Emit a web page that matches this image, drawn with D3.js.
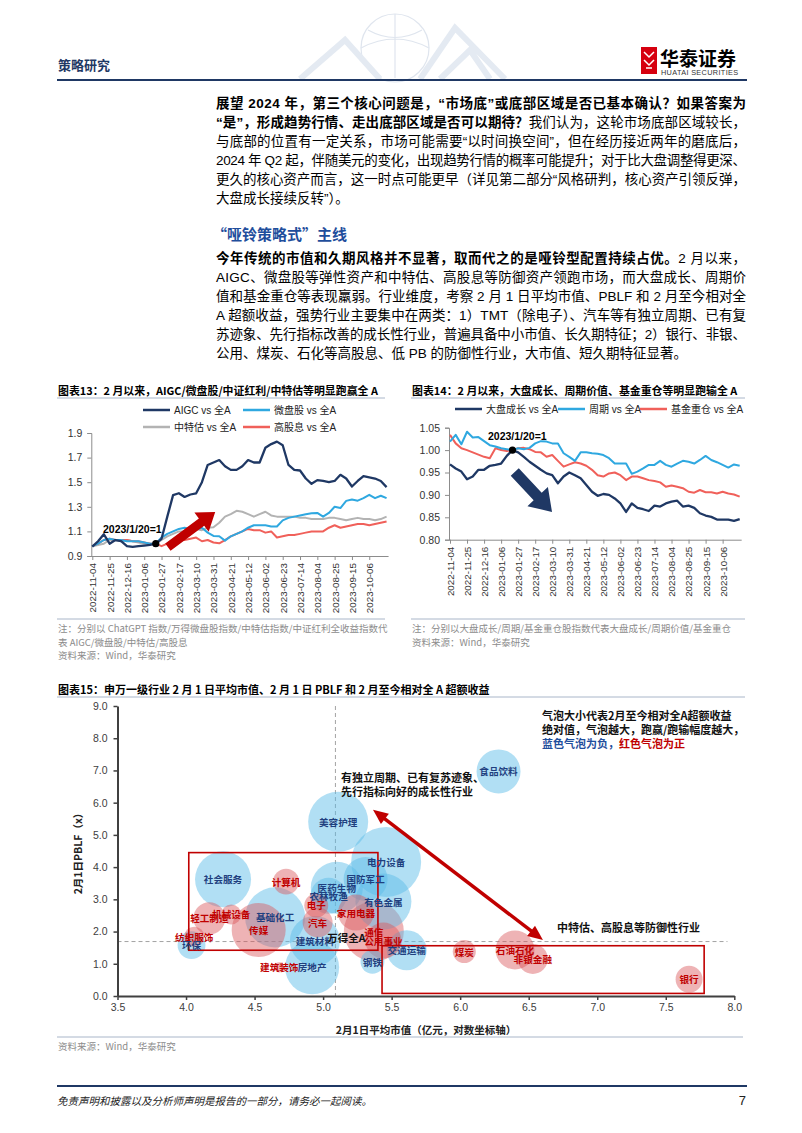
<!DOCTYPE html>
<html><head><meta charset="utf-8">
<script src="https://cdn.jsdelivr.net/npm/d3@7"></script>
<style>body{margin:0;background:#fff}svg{display:block}</style>
</head><body>
<svg id="page" width="802" height="1133"></svg>
<script>
// ---------------- DATA ----------------
const weekTickLabels = ["2022-11-04","2022-11-25","2022-12-16","2023-01-06","2023-01-27","2023-02-17","2023-03-10","2023-03-31","2023-04-21","2023-05-12","2023-06-02","2023-06-23","2023-07-14","2023-08-04","2023-08-25","2023-09-15","2023-10-06"];
const baseWeek = 11; // 2023/1/20 = 1

const aigc = [0.976,1.02,1.077,1.0,1.03,1.02,0.98,0.975,0.98,0.985,0.99,1.0,1.04,1.22,1.395,1.41,1.38,1.40,1.41,1.5,1.64,1.66,1.68,1.63,1.60,1.60,1.63,1.68,1.66,1.66,1.78,1.81,1.83,1.80,1.64,1.60,1.595,1.53,1.487,1.517,1.51,1.50,1.51,1.56,1.53,1.465,1.51,1.55,1.54,1.53,1.51,1.46];
const microCap = [0.98,1.0,1.03,1.04,1.03,1.03,1.02,1.02,1.02,1.01,1.0,1.0,1.05,1.08,1.1,1.12,1.13,1.12,1.117,1.13,1.09,1.063,1.06,1.025,1.06,1.08,1.1,1.13,1.15,1.15,1.15,1.14,1.14,1.19,1.21,1.22,1.23,1.24,1.248,1.25,1.22,1.25,1.30,1.29,1.348,1.36,1.35,1.37,1.397,1.37,1.39,1.37];
const cte = [0.98,0.99,1.0,1.03,1.03,1.02,1.03,1.02,1.01,1.0,1.0,1.0,1.03,1.06,1.08,1.1,1.1,1.1,1.12,1.11,1.13,1.134,1.17,1.22,1.24,1.267,1.26,1.24,1.22,1.24,1.26,1.23,1.22,1.22,1.22,1.22,1.21,1.21,1.2,1.2,1.2,1.21,1.21,1.2,1.19,1.2,1.21,1.2,1.2,1.19,1.2,1.22];
const highDiv = [0.98,1.0,1.03,1.04,1.03,1.03,1.03,1.02,1.02,1.01,1.0,1.0,0.98,1.0,1.025,1.03,1.03,1.04,1.05,1.02,1.03,1.01,1.003,1.03,1.06,1.08,1.1,1.12,1.11,1.11,1.09,1.1,1.05,1.06,1.07,1.07,1.08,1.09,1.1,1.1,1.1,1.13,1.15,1.13,1.14,1.15,1.16,1.16,1.15,1.16,1.17,1.18];

const largeGrowth = [0.968,0.959,0.952,0.935,0.941,0.956,0.956,0.965,0.967,0.970,0.987,1.0,0.995,0.985,0.974,0.965,0.956,0.948,0.944,0.926,0.941,0.950,0.944,0.937,0.922,0.907,0.898,0.902,0.900,0.892,0.881,0.862,0.881,0.871,0.868,0.864,0.876,0.874,0.881,0.885,0.887,0.874,0.876,0.871,0.859,0.854,0.851,0.845,0.845,0.845,0.842,0.846];
const cyclical = [1.019,1.034,1.013,1.041,1.028,1.029,1.020,1.011,1.008,1.004,1.002,1.0,1.004,1.002,1.005,1.015,1.020,1.019,1.015,1.015,0.993,0.985,0.976,0.995,0.995,0.993,0.992,0.989,0.982,0.970,0.970,0.970,0.947,0.952,0.959,0.967,0.967,0.976,0.967,0.963,0.970,0.976,0.974,0.970,0.978,0.987,0.978,0.973,0.967,0.961,0.968,0.965];
const fundHeavy = [1.034,1.015,1.004,1.0,0.995,0.990,0.985,0.982,1.004,1.0,0.998,1.0,1.004,1.005,1.002,0.996,0.995,0.985,0.989,0.976,0.963,0.968,0.973,0.970,0.965,0.956,0.944,0.941,0.948,0.950,0.944,0.933,0.941,0.941,0.937,0.933,0.931,0.928,0.918,0.921,0.918,0.915,0.907,0.905,0.911,0.906,0.906,0.903,0.907,0.903,0.901,0.896];

// bubble chart: Shenwan level-1 industries
const industries = ["食品饮料","美容护理","电力设备","社会服务","计算机","国防军工","医药生物","农林牧渔","有色金属","电子","家用电器","汽车","基础化工","传媒","机械设备","轻工制造","纺织服饰","环保","建筑材料","通信","公用事业","交通运输","钢铁","建筑装饰","房地产","煤炭","石油石化","非银金融","银行"];
const avgMktCap = [6.28,5.11,5.46,4.27,4.73,5.31,5.10,5.04,5.44,4.95,5.24,4.96,4.65,4.53,4.33,4.17,4.06,4.04,4.94,5.37,5.44,5.61,5.36,4.68,4.92,6.03,6.40,6.53,7.67];
const pblfVals = [6.97,5.41,4.16,3.62,3.55,3.63,3.36,3.11,2.93,2.81,2.59,2.28,2.44,2.05,2.53,2.41,1.84,1.58,1.71,2.00,1.72,1.42,1.06,0.89,0.89,1.38,1.43,1.15,0.52];
const excessRet = [-14.9,-27.8,-37.8,-24.2,5.2,-14.9,-20.9,-10.0,-24.2,4.4,10.0,6.9,-27.8,22.5,3.1,7.9,3.1,-6.0,-19.3,27.8,10.0,-12.3,-4.4,0.8,-22.5,4.1,11.7,6.9,5.6];
const allA = {name:"万得全A", cap:5.09, pblf:1.69};

const xTicks15 = [3.5,4.0,4.5,5.0,5.5,6.0,6.5,7.0,7.5,8.0];
const yTicks15 = [0,1,2,3,4,5,6,7,8,9];

// ---------------- HELPERS ----------------
const FONT = '"Liberation Sans", Arial, "Noto Sans CJK SC", sans-serif';
const CJK = '"Noto Sans CJK SC", "Liberation Sans", sans-serif';
const svg = d3.select("#page");
svg.append("rect").attr("width",802).attr("height",1133).attr("fill","#fff");

function txt(g, x, y, s, size, o={}) {
  return g.append("text").attr("x",x).attr("y",y).text(s)
    .attr("font-size",size).attr("font-family",o.family||FONT)
    .attr("font-weight",o.weight||"normal").attr("fill",o.fill||"#000")
    .attr("text-anchor",o.anchor||"start").attr("dominant-baseline","central")
    .attr("font-style",o.style||"normal");
}
function justLine(g, x, y, w, parts, size, justify) {
  const t = g.append("text").attr("x",x).attr("y",y).attr("font-size",size)
    .attr("font-family",FONT).attr("dominant-baseline","central").attr("fill","#000");
  let n = 0;
  parts.forEach(p => { t.append("tspan").text(p[0]).attr("font-weight",p[1]?"bold":"normal"); n += p[0].length; });
  if (justify) {
    const nat = t.node().getComputedTextLength();
    const ls = (w - nat) / (n - 1);
    t.attr("letter-spacing", ls);
  }
  return t;
}
function blockArrow(g, x1,y1,x2,y2, shaftW, headW, headL, fill){
  const dx=x2-x1, dy=y2-y1, L=Math.hypot(dx,dy), ux=dx/L, uy=dy/L, px=-uy, py=ux;
  const bx=x2-ux*headL, by=y2-uy*headL;
  const pts=[[x1+px*shaftW/2,y1+py*shaftW/2],[bx+px*shaftW/2,by+py*shaftW/2],[bx+px*headW/2,by+py*headW/2],[x2,y2],[bx-px*headW/2,by-py*headW/2],[bx-px*shaftW/2,by-py*shaftW/2],[x1-px*shaftW/2,y1-py*shaftW/2]];
  g.append("polygon").attr("points",pts.map(p=>p.join(",")).join(" ")).attr("fill",fill);
}
function arrowHead(g, x1,y1,x2,y2, headW, headL, fill){
  const dx=x2-x1, dy=y2-y1, L=Math.hypot(dx,dy), ux=dx/L, uy=dy/L, px=-uy, py=ux;
  const bx=x2-ux*headL, by=y2-uy*headL;
  g.append("polygon").attr("points",[[x2,y2],[bx+px*headW/2,by+py*headW/2],[bx-px*headW/2,by-py*headW/2]].map(p=>p.join(",")).join(" ")).attr("fill",fill);
}

// ---------------- HEADER ----------------
const hdr = svg.append("g");
const wm = hdr.append("g").attr("fill","none").attr("stroke","#dfe5ee").attr("stroke-width",1.2);
wm.append("circle").attr("cx",395).attr("cy",48).attr("r",34);
wm.append("path").attr("d","M361,48 Q395,30 429,48 M368,30 Q395,45 422,30 M395,14 L395,78");
wm.append("path").attr("d","M300,79 L345,40 L380,79 M420,79 L455,28 L505,79 M440,79 L470,50 L490,79").attr("stroke","#e4eaf2").attr("stroke-width",6);
txt(hdr, 58, 64, "策略研究", 13, {weight:"bold", fill:"#1f3864", family:CJK});
hdr.append("rect").attr("x",641).attr("y",47).attr("width",16).attr("height",27).attr("fill","#d6000f");
hdr.append("path").attr("d","M644,52 L649,57 L654,52 M644,60 L649,65 L654,60 M646,68 L652,68").attr("stroke","#fff").attr("stroke-width",1.5).attr("fill","none");
txt(hdr, 660, 57, "华泰证券", 19, {weight:"bold", family:CJK});
txt(hdr, 661, 72.5, "HUATAI SECURITIES", 7.3, {fill:"#333"}).attr("letter-spacing",0.35);
hdr.append("line").attr("x1",57).attr("x2",747).attr("y1",80).attr("y2",80).attr("stroke","#1f3864").attr("stroke-width",2);

// ---------------- BODY TEXT ----------------
const body = svg.append("g");
const BX = 216, BW = 530, BS = 13.5;
const p1 = [
  [["展望 2024 年，第三个核心问题是，“市场底”或底部区域是否已基本确认？如果答案为",1]],
  [["“是”，形成趋势行情、走出底部区域是否可以期待？",1],["我们认为，这轮市场底部区域较长，",0]],
  [["与底部的位置有一定关系，市场可能需要“以时间换空间”，但在经历接近两年的磨底后，",0]],
  [["2024 年 Q2 起，伴随美元的变化，出现趋势行情的概率可能提升；对于比大盘调整得更深、",0]],
  [["更久的核心资产而言，这一时点可能更早（详见第二部分“风格研判，核心资产引领反弹，",0]],
  [["大盘成长接续反转”）。",0]]
];
p1.forEach((ln,i)=> justLine(body, BX, 103 + i*19, BW, ln, BS, i < p1.length-1));
txt(body, 212, 233, "“哑铃策略式”主线", 15, {weight:"bold", fill:"#1f4e9c", family:CJK});
const p2 = [
  [["今年传统的市值和久期风格并不显著，取而代之的是哑铃型配置持续占优。",1],["2 月以来，",0]],
  [["AIGC、微盘股等弹性资产和中特估、高股息等防御资产领跑市场，而大盘成长、周期价",0]],
  [["值和基金重仓等表现羸弱。行业维度，考察 2 月 1 日平均市值、PBLF 和 2 月至今相对全",0]],
  [["A 超额收益，强势行业主要集中在两类：1）TMT（除电子）、汽车等有独立周期、已有复",0]],
  [["苏迹象、先行指标改善的成长性行业，普遍具备中小市值、长久期特征；2）银行、非银、",0]],
  [["公用、煤炭、石化等高股息、低 PB 的防御性行业，大市值、短久期特征显著。",0]]
];
p2.forEach((ln,i)=> justLine(body, BX, 258 + i*19, BW, ln, BS, i < p2.length-1));

// ---------------- LINE CHART FACTORY ----------------
const GRID = "#a9b6c9";
function lineChart(cfg){
  const g = svg.append("g");
  txt(g, cfg.titleX, 390, cfg.title, 10.9, {weight:"bold", family:CJK});
  g.append("line").attr("x1",cfg.titleX-1).attr("x2",cfg.rightX).attr("y1",398).attr("y2",398).attr("stroke",GRID);
  const x = d3.scaleLinear().domain([0,51]).range(cfg.xr);
  const y = d3.scaleLinear().domain(cfg.yd).range(cfg.yr);
  cfg.legend.forEach(l=>{
    g.append("line").attr("x1",l.x).attr("x2",l.x+27).attr("y1",l.y).attr("y2",l.y).attr("stroke",l.color).attr("stroke-width",2.5);
    txt(g, l.x+31, l.y, l.label, 10, {fill:"#222"});
  });
  const ya = g.append("g").attr("transform",`translate(${cfg.xr[0]-1},0)`)
    .call(d3.axisLeft(y).tickValues(cfg.yTicks).tickFormat(d3.format(cfg.fmt)).tickSize(4).tickPadding(5));
  ya.select(".domain").attr("stroke","#8c8c8c");
  ya.selectAll(".tick line").attr("stroke","#8c8c8c");
  ya.selectAll("text").attr("font-size",10.5).attr("font-family",FONT).attr("fill","#333");
  const xa = g.append("g").attr("transform",`translate(0,${cfg.yr[0]})`)
    .call(d3.axisBottom(x).tickValues(d3.range(0,49,3)).tickFormat((d,i)=>weekTickLabels[i]).tickSize(4).tickSizeOuter(0));
  xa.select(".domain").attr("stroke","#8c8c8c").attr("d",`M${cfg.xr[0]-1},0.5H${x(51)+2}`);
  xa.selectAll(".tick line").attr("stroke","#8c8c8c");
  xa.selectAll("text").attr("font-size",9.8).attr("font-family",FONT).attr("fill","#333")
    .attr("transform","rotate(-90)").attr("text-anchor","end").attr("dy","0.35em").attr("x",-7).attr("y",0);
  const line = d3.line().x((d,i)=>x(i)).y(d=>y(d));
  cfg.series.forEach(s=>{
    g.append("path").datum(s.data).attr("d",line).attr("fill","none").attr("stroke",s.color).attr("stroke-width",s.w||2).attr("stroke-linejoin","round");
  });
  g.append("circle").attr("cx",x(baseWeek)).attr("cy",y(1)).attr("r",3.6).attr("fill","#000");
  txt(g, cfg.baseLabel[0], cfg.baseLabel[1], "2023/1/20=1", 10.5, {weight:"bold"});
  const a = cfg.arrow;
  blockArrow(g, x(a[0]), y(a[1]), x(a[2]), y(a[3]), a[4], a[5], a[6], a[7]);
  g.append("line").attr("x1",cfg.titleX-1).attr("x2",cfg.rightX).attr("y1",619).attr("y2",619).attr("stroke",GRID);
  cfg.notes.forEach((n,i)=> txt(g, cfg.titleX, 628 + i*13.5, n, 9.5, {fill:"#8c8c8c", family:CJK}));
  return g;
}

lineChart({
  title:"图表13：2 月以来，AIGC/微盘股/中证红利/中特估等明显跑赢全 A", titleX:58, rightX:385,
  xr:[92.3, 92.3+51*5.77], yd:[0.9,1.9], yr:[556,433], yTicks:[0.9,1.1,1.3,1.5,1.7,1.9], fmt:".1f",
  legend:[{x:143,y:410,color:"#1f3864",label:"AIGC vs 全A"},{x:243,y:410,color:"#2fa8e0",label:"微盘股 vs 全A"},
          {x:143,y:427,color:"#b3b3b3",label:"中特估 vs 全A"},{x:243,y:427,color:"#f0605a",label:"高股息 vs 全A"}],
  series:[{data:cte,color:"#b3b3b3"},{data:highDiv,color:"#f0605a"},{data:microCap,color:"#2fa8e0"},{data:aigc,color:"#1f3864",w:2.3}],
  baseLabel:[103,529],
  arrow:[13.1,0.973,21.3,1.258,9,24,17,"#c00000"],
  notes:["注：分别以 ChatGPT 指数/万得微盘股指数/中特估指数/中证红利全收益指数代","表 AIGC/微盘股/中特估/高股息","资料来源：Wind，华泰研究"]
});
lineChart({
  title:"图表14：2 月以来，大盘成长、周期价值、基金重仓等明显跑输全 A", titleX:412, rightX:745,
  xr:[450, 450+51*5.68], yd:[0.80,1.05], yr:[539.7,427.7], yTicks:[0.80,0.85,0.90,0.95,1.00,1.05], fmt:".2f",
  legend:[{x:455,y:409,color:"#1f3864",label:"大盘成长 vs 全A"},{x:558,y:409,color:"#2fa8e0",label:"周期 vs 全A"},
          {x:640,y:409,color:"#f0605a",label:"基金重仓 vs 全A"}],
  series:[{data:fundHeavy,color:"#f0605a"},{data:cyclical,color:"#2fa8e0"},{data:largeGrowth,color:"#1f3864",w:2.3}],
  baseLabel:[488,436],
  arrow:[11.4,0.951,17.96,0.862,11,28,21,"#1f3864"],
  notes:["注：分别以大盘成长/周期/基金重仓股指数代表大盘成长/周期价值/基金重仓","资料来源：Wind，华泰研究"]
});

// ---------------- BUBBLE CHART ----------------
const b = svg.append("g");
txt(b, 58, 689, "图表15：申万一级行业 2 月 1 日平均市值、2 月 1 日 PBLF 和 2 月至今相对全 A 超额收益", 11, {weight:"bold", family:CJK});
b.append("line").attr("x1",57).attr("x2",745).attr("y1",697).attr("y2",697).attr("stroke",GRID);
const x15 = d3.scaleLinear().domain([3.5,8.0]).range([117.5,734.3]);
const y15 = d3.scaleLinear().domain([0,9]).range([996,706]);
const r15 = d3.scaleSqrt().domain([0,40]).range([0,36]);

b.append("line").attr("x1",x15(allA.cap)).attr("x2",x15(allA.cap)).attr("y1",y15(9)).attr("y2",y15(0)).attr("stroke","#8c8c8c").attr("stroke-dasharray","4,3").attr("stroke-width",0.8);
b.append("line").attr("x1",x15(3.5)).attr("x2",x15(7.95)).attr("y1",y15(allA.pblf)).attr("y2",y15(allA.pblf)).attr("stroke","#8c8c8c").attr("stroke-dasharray","4,3").attr("stroke-width",0.8);

const bubbles = industries.map((n,i)=>({name:n, cap:avgMktCap[i], pb:pblfVals[i], ex:excessRet[i]}));
const sorted = bubbles.slice().sort((a,c)=>Math.abs(c.ex)-Math.abs(a.ex));
b.selectAll("circle.bub").data(sorted).enter().append("circle").attr("class","bub")
  .attr("cx",d=>x15(d.cap)).attr("cy",d=>y15(d.pb)).attr("r",d=>r15(Math.abs(d.ex)))
  .attr("fill",d=>d.ex<0?"#5bbde8":"#d9575a").attr("fill-opacity",d=>d.ex<0?0.48:0.45);

function box(x0,y0,x1,y1){ b.append("rect").attr("x",x15(x0)).attr("y",y15(y0)).attr("width",x15(x1)-x15(x0)).attr("height",y15(y1)-y15(y0)).attr("fill","none").attr("stroke","#c00000").attr("stroke-width",1.6); }
box(4.02,4.45,5.40,1.42);
box(5.43,1.56,7.78,0.08);

bubbles.forEach(d=>{
  txt(b, x15(d.cap), y15(d.pb), d.name, 9.6, {anchor:"middle", weight:"bold", family:CJK, fill:d.ex<0?"#1f3f7f":"#c00000"});
});
txt(b, x15(allA.cap)+11, y15(allA.pblf)-4, allA.name, 10.5, {anchor:"middle", weight:"bold", family:CJK, fill:"#111"});

const ya15 = b.append("g").attr("transform",`translate(${x15(3.5)},0)`).call(d3.axisLeft(y15).tickValues(yTicks15).tickFormat(d3.format(".1f")).tickSize(4).tickSizeOuter(0).tickPadding(6));
const xa15 = b.append("g").attr("transform",`translate(0,${y15(0)})`).call(d3.axisBottom(x15).tickValues(xTicks15).tickFormat(d3.format(".1f")).tickSize(4).tickSizeOuter(0).tickPadding(4));
[ya15,xa15].forEach(a=>{
  a.select(".domain").attr("stroke","#404040").attr("stroke-width",2);
  a.selectAll(".tick line").attr("stroke","#404040").attr("stroke-width",1.5);
  a.selectAll("text").attr("font-size",10.5).attr("font-family",FONT).attr("fill","#404040");
});
txt(b, 426, 1029, "2月1日平均市值（亿元，对数坐标轴）", 10.5, {anchor:"middle", weight:"bold", family:CJK, fill:"#222"});
txt(b, 0, 0, "2月1日PBLF（x）", 10.5, {anchor:"middle", weight:"bold", family:CJK, fill:"#222"}).attr("transform","translate(77,851) rotate(-90)");

const ax1 = x15(5.364), ay1 = y15(5.78), ax2 = x15(6.604), ay2 = y15(1.74);
{
  const L = Math.hypot(ax2-ax1, ay2-ay1), ux=(ax2-ax1)/L, uy=(ay2-ay1)/L;
  b.append("line").attr("x1",ax1+ux*12).attr("y1",ay1+uy*12).attr("x2",ax2-ux*12).attr("y2",ay2-uy*12).attr("stroke","#c00000").attr("stroke-width",3.5);
  arrowHead(b, ax2, ay2, ax1, ay1, 13, 15, "#c00000");
  arrowHead(b, ax1, ay1, ax2, ay2, 13, 15, "#c00000");
}

const ann = {family:CJK, weight:"bold", fill:"#111"};
txt(b, 341, 777, "有独立周期、已有复苏迹象、", 11, ann);
txt(b, 341, 791, "先行指标向好的成长性行业", 11, ann);
txt(b, 557, 927, "中特估、高股息等防御性行业", 11, ann);
txt(b, 542, 715, "气泡大小代表2月至今相对全A超额收益", 11, ann);
txt(b, 542, 729, "绝对值，气泡越大，跑赢/跑输幅度越大，", 11, ann);
const lg = b.append("text").attr("x",542).attr("y",743).attr("font-size",11).attr("font-family",CJK).attr("font-weight","bold").attr("dominant-baseline","central");
lg.append("tspan").text("蓝色气泡为负，").attr("fill","#1f4e9c");
lg.append("tspan").text("红色气泡为正").attr("fill","#c00000");

b.append("line").attr("x1",57).attr("x2",743).attr("y1",1037).attr("y2",1037).attr("stroke",GRID);
txt(b, 58, 1046, "资料来源：Wind，华泰研究", 9.5, {fill:"#8c8c8c", family:CJK});

// ---------------- FOOTER ----------------
svg.append("line").attr("x1",57).attr("x2",747).attr("y1",1086).attr("y2",1086).attr("stroke","#1f3864").attr("stroke-width",2);
txt(svg, 57, 1100, "免责声明和披露以及分析师声明是报告的一部分，请务必一起阅读。", 10.5, {style:"italic", family:CJK, fill:"#222"});
txt(svg, 746, 1100, "7", 13, {anchor:"end", fill:"#222"});
</script>
</body></html>
